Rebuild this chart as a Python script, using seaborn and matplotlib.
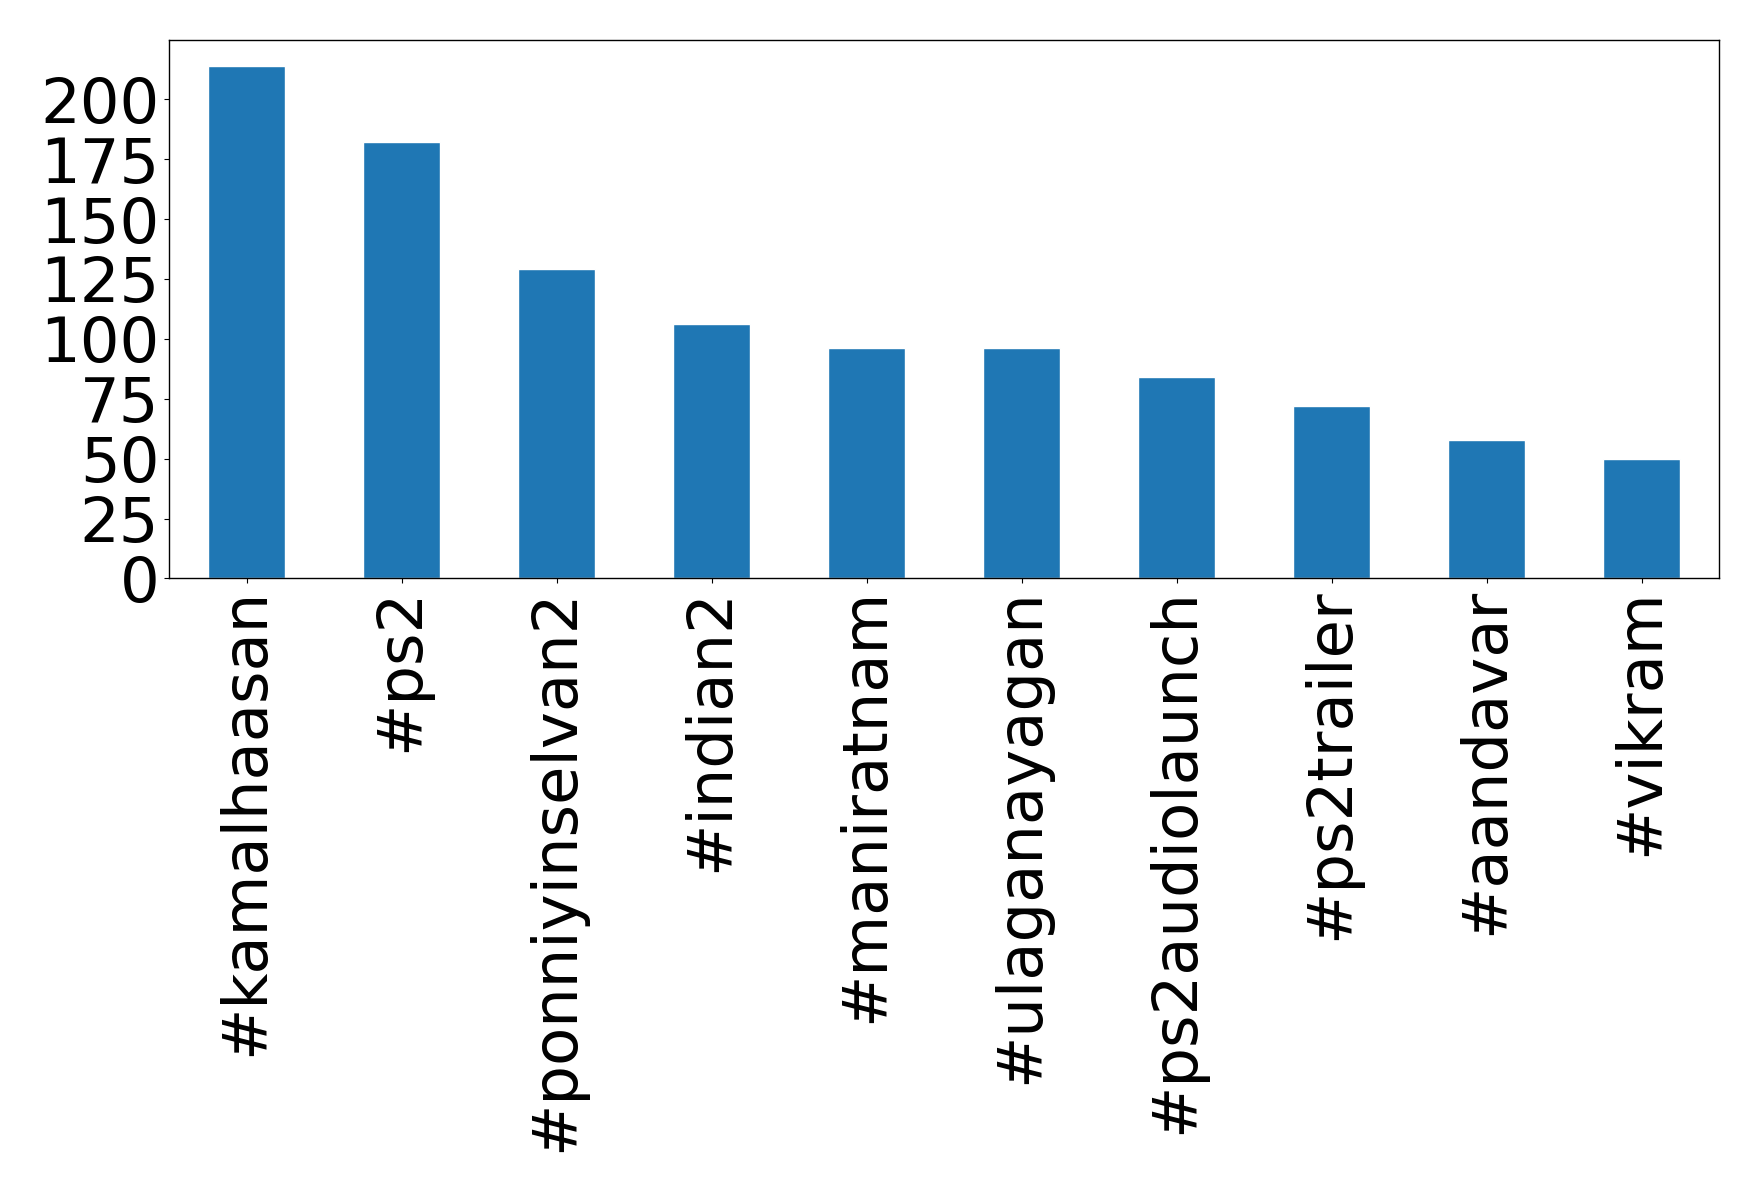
import matplotlib
matplotlib.use("Agg")
import matplotlib.pyplot as plt
import seaborn as sns
import pandas as pd

hashtags = ["#kamalhaasan", "#ps2", "#ponniyinselvan2", "#indian2", "#maniratnam",
            "#ulaganayagan", "#ps2audiolaunch", "#ps2trailer", "#aandavar", "#vikram"]
counts = [214, 182, 129, 106, 96, 96, 84, 72, 58, 50]

df = pd.DataFrame({"hashtag": hashtags, "count": counts})

sns.set_style("ticks")
plt.rcParams['font.family'] = ['DejaVu Sans']
plt.rcParams['text.color'] = 'black'
plt.rcParams['xtick.color'] = 'black'
plt.rcParams['ytick.color'] = 'black'
plt.rcParams['axes.labelcolor'] = 'black'

fig = plt.figure(figsize=(17.58, 11.92), dpi=100)
ax = fig.add_axes([169/1758, 1 - 578.5/1192, (1719-169)/1758, (578.5-40)/1192])
sns.barplot(data=df, x="hashtag", y="count", color="#1f77b4", saturation=1,
            width=0.5, ax=ax)
ax.set_xlabel("")
ax.set_ylabel("")
ax.set_xlim(-0.5, len(hashtags) - 0.5)
ax.set_ylim(0, max(counts) * 1.05)
ax.set_yticks(range(0, 201, 25))
ax.tick_params(axis="both", labelsize=45, colors="black", length=3.5, width=0.8)
ax.tick_params(axis="x", labelrotation=90)
for s in ax.spines.values():
    s.set_visible(True)
    s.set_linewidth(1.0)
    s.set_color("black")
fig.savefig("out.png", dpi=100)
